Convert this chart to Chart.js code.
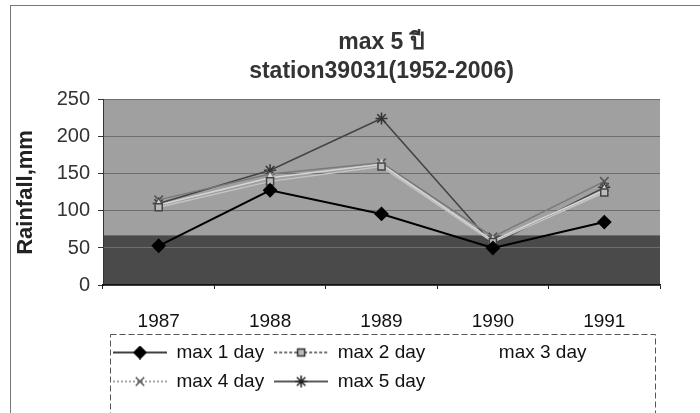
<!DOCTYPE html>
<html>
<head>
<meta charset="utf-8">
<script src="https://cdn.jsdelivr.net/npm/chart.js@4.4.0/dist/chart.umd.min.js"></script>
<style>
  html, body { margin: 0; padding: 0; background: #fff; }
  #wrap { position: relative; width: 700px; height: 413px; }
  #frame { position: absolute; left: 10px; top: 5px; width: 690px; height: 408px;
           border-top: 1px solid #777; border-left: 1px solid #777; box-sizing: border-box; }
  canvas { position: absolute; left: 0; top: 0; }
</style>
</head>
<body>
<div id="wrap"><div id="frame"></div><canvas id="chart" width="700" height="413"></canvas></div>
<script>
// ค่าอ่านจากกราฟ (mm)
const years = ["1987", "1988", "1989", "1990", "1991"];
const max1day = [53, 128, 96, 50, 85];
const max2day = [105, 140, 160, 58, 125];
const max3day = [108, 145, 163, 60, 128];
const max4day = [115, 150, 165, 65, 140];
const max5day = [110, 155, 225, 55, 132];
const yTicks = [0, 50, 100, 150, 200, 250];

const ctx = document.getElementById('chart');

// สัญลักษณ์ legend: เส้น + marker ตรงกลาง
function legendSymbol(line, dash, pointStyle, fill, stroke, radius) {
    const c = document.createElement('canvas');
    c.width = 54; c.height = 14;
    const g = c.getContext('2d');
    g.strokeStyle = line;
    g.lineWidth = 1.5;
    g.setLineDash(dash);
    g.beginPath(); g.moveTo(0, 7); g.lineTo(54, 7); g.stroke();
    g.setLineDash([]);
    if (pointStyle) {
        g.fillStyle = fill;
        g.strokeStyle = stroke;
        Chart.helpers.drawPoint(g, { pointStyle: pointStyle, radius: radius, borderWidth: 1.5, rotation: 0 }, 27, 7);
    }
    return c;
}
const symbols = [
    legendSymbol('#000', [], 'rectRot', '#000', '#000', 6),
    legendSymbol('#444', [3, 2], 'rect', '#bbb', '#333', 5),
    legendSymbol('rgba(0,0,0,0)', [], null),
    legendSymbol('#888', [2, 2], 'crossRot', '#666', '#555', 6),
    legendSymbol('#222', [], 'star', '#222', '#222', 6),
];

// พื้นหลังพล็อต สีเทา + แถบล่างเข้ม
const plotBg = {
    id: 'plotBg',
    beforeDraw(chart) {
        const { ctx, chartArea: a, scales: { y } } = chart;
        ctx.save();
        ctx.fillStyle = '#a0a0a0';
        ctx.fillRect(a.left, a.top, a.width, a.height);
        const yb = y.getPixelForValue(67);
        ctx.fillStyle = '#4a4a4a';
        ctx.fillRect(a.left, yb, a.width, a.bottom - yb);
        ctx.restore();
    }
};

// กรอบเส้นประรอบ legend
const legendBox = {
    id: 'legendBox',
    afterDraw(chart) {
        const l = chart.legend;
        const ctx = chart.ctx;
        ctx.save();
        ctx.strokeStyle = '#555';
        ctx.lineWidth = 1;
        ctx.setLineDash([6, 3]);
        ctx.strokeRect(l.left + 7.5, l.top + 1.5, l.width - 12, 100);
        ctx.restore();
    }
};

new Chart(ctx, {
    type: 'line',
    data: {
        labels: years,
        datasets: [{
            label: "max 1 day",
            data: max1day,
            borderColor: '#000',
            backgroundColor: '#000',
            borderWidth: 2,
            pointStyle: 'rectRot',
            pointRadius: 6,
        },
        {
            label: "max 2 day",
            data: max2day,
            borderColor: '#c4c4c4',
            backgroundColor: '#bbb',
            pointBorderColor: '#444',
            borderWidth: 1.5,
            pointStyle: 'rect',
            pointRadius: 5,
        },
        {
            label: "max 3 day",
            data: max3day,
            borderColor: '#d6d6d6',
            backgroundColor: '#d6d6d6',
            borderWidth: 1.5,
            pointStyle: 'triangle',
            pointRadius: 4,
        },
        {
            label: "max 4 day",
            data: max4day,
            borderColor: '#7a7a7a',
            backgroundColor: '#666',
            pointBorderColor: '#555',
            borderWidth: 1.5,
            pointStyle: 'crossRot',
            pointRadius: 6,
        },
        {
            label: "max 5 day",
            data: max5day,
            borderColor: '#444',
            backgroundColor: '#333',
            pointBorderColor: '#333',
            borderWidth: 1.5,
            pointStyle: 'star',
            pointRadius: 6,
        },]
    },
    options: {
        responsive: false,
        animation: false,
        layout: {
            padding: { top: 8, left: 10, right: 40, bottom: 12 },
        },
        scales: {
            y: {
                min: 0,
                max: 250,
                afterBuildTicks: (s) => { s.ticks = yTicks.map(v => ({ value: v })); },
                afterFit: (s) => { s.width = 93; },
                ticks: {
                    color: '#333',
                    padding: 8,
                    font: { family: 'Liberation Sans', size: 20 },
                },
                grid: {
                    color: '#6e6e6e',
                    tickLength: 5,
                    tickColor: '#333',
                },
                border: { color: '#333' },
                title: {
                    display: true,
                    text: 'Rainfall,mm',
                    color: '#222',
                    padding: { top: 3, bottom: 0 },
                    font: { family: 'Liberation Sans', size: 22, weight: 'bold' },
                },
            },
            x: {
                offset: true,
                afterFit: (s) => { s.height = 48; },
                ticks: {
                    color: '#111',
                    padding: 21,
                    font: { family: 'Liberation Sans', size: 19 },
                },
                grid: {
                    offset: true,
                    drawOnChartArea: false,
                    tickLength: 4,
                    tickColor: '#222',
                },
                border: { color: '#111', width: 1.5 },
            },
        },
        plugins: {
            title: {
                display: true,
                fullSize: false,
                text: ['max 5 ปี', 'station39031(1952-2006)'],
                color: '#333',
                padding: { top: 20, bottom: 14 },
                font: { family: "'Liberation Sans', 'Noto Sans', 'DejaVu Sans', sans-serif", size: 23, weight: 'bold', lineHeight: 1.26 },
            },
            legend: {
                position: 'bottom',
                align: 'start',
                fullSize: false,
                labels: {
                    color: '#111',
                    padding: 10,
                    usePointStyle: true,
                    pointStyleWidth: 54,
                    font: { family: 'Liberation Sans', size: 19 },
                    generateLabels(chart) {
                        const items = Chart.defaults.plugins.legend.labels.generateLabels(chart);
                        items.forEach((it, i) => { it.pointStyle = symbols[i]; });
                        return items;
                    },
                },
            },
            tooltip: { enabled: false },
        }
    },
    plugins: [plotBg, legendBox],
});
</script>
</body>
</html>
